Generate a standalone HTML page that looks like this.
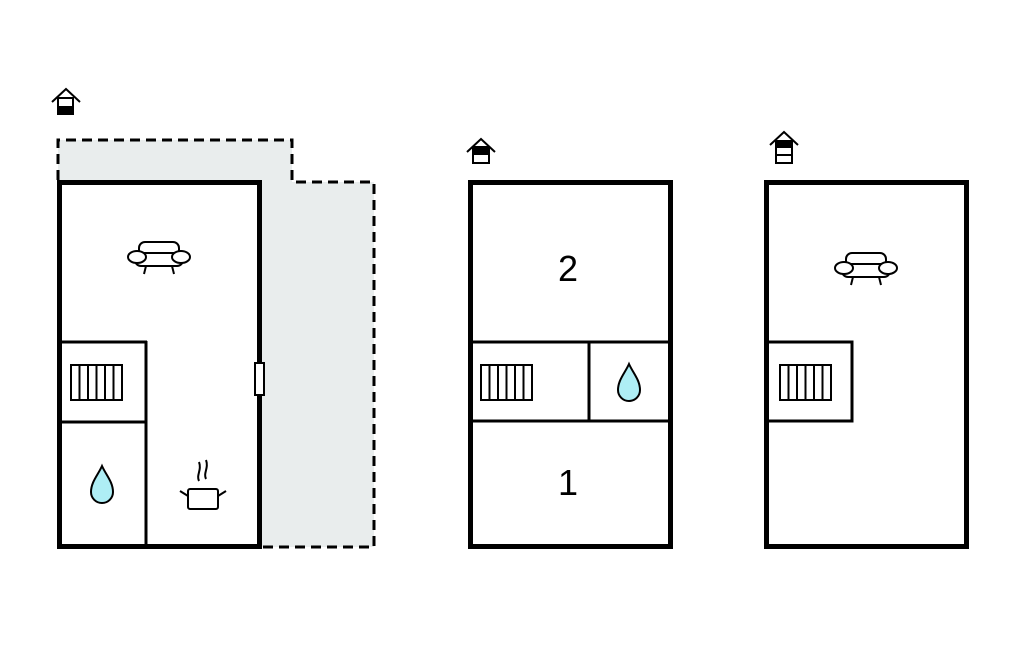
<!DOCTYPE html>
<html><head><meta charset="utf-8"><style>
html,body{margin:0;padding:0;background:#fff;width:1024px;height:652px;overflow:hidden}
</style></head><body>
<svg width="1024" height="652" viewBox="0 0 1024 652" xmlns="http://www.w3.org/2000/svg">
<defs>
<g id="sofa" fill="#fff" stroke="#000" stroke-width="2">
<rect x="-20" y="-17" width="40" height="17" rx="6"/>
<rect x="-24" y="-6" width="48" height="13" rx="6"/>
<ellipse cx="-22" cy="-2" rx="9" ry="6"/>
<ellipse cx="22" cy="-2" rx="9" ry="6"/>
<line x1="-13" y1="7" x2="-15" y2="15"/>
<line x1="13" y1="7" x2="15" y2="15"/>
</g>
<g id="rad" fill="#fff" stroke="#000" stroke-width="2">
<rect x="0" y="0" width="51" height="35"/>
<line x1="8.5" y1="0" x2="8.5" y2="35"/><line x1="17" y1="0" x2="17" y2="35"/>
<line x1="25.5" y1="0" x2="25.5" y2="35"/><line x1="34" y1="0" x2="34" y2="35"/>
<line x1="42.5" y1="0" x2="42.5" y2="35"/>
</g>
<path id="drop" d="M0,-19 C-4,-10 -11,-3 -11,7 A11,11 0 0 0 11,7 C11,-3 4,-10 0,-19 Z" fill="#aeeef5" stroke="#000" stroke-width="2"/>
</defs>

<path d="M58,140 L292,140 L292,182 L374,182 L374,547 L260,547 L260,182 L58,182 Z" fill="#e9eded"/>
<path d="M58,180 L58,140 L292,140 L292,182 L374,182 L374,547 L262,547" fill="none" stroke="#000" stroke-width="3" stroke-dasharray="10,6"/>
<rect x="59.5" y="182.5" width="200" height="364" fill="#fff" stroke="#000" stroke-width="5"/>
<line x1="59" y1="342" x2="147" y2="342" stroke="#000" stroke-width="3"/>
<line x1="59" y1="422" x2="146" y2="422" stroke="#000" stroke-width="3"/>
<line x1="146" y1="341" x2="146" y2="547" stroke="#000" stroke-width="3"/>
<rect x="255" y="363" width="9" height="32" fill="#fff" stroke="#000" stroke-width="2"/>
<use href="#sofa" x="159" y="259"/>
<use href="#rad" x="71" y="365"/>
<use href="#drop" x="102" y="485"/>
<g fill="none" stroke="#000" stroke-width="2">
<rect x="188" y="489" width="30" height="20" rx="2" fill="#fff"/>
<line x1="188" y1="496" x2="180" y2="491"/><line x1="218" y1="496" x2="226" y2="491"/>
<path d="M199,481 C196,475 202,470 199,462"/><path d="M206,479 C203,473 209,468 206,460"/>
</g>
<g stroke="#000" stroke-width="2" fill="none">
<polyline points="52,102 66,89 80,102"/>
<rect x="58" y="98" width="15" height="16" fill="#fff"/>
</g>
<rect x="58" y="106" width="15" height="8" fill="#000"/>

<rect x="470.5" y="182.5" width="200" height="364" fill="#fff" stroke="#000" stroke-width="5"/>
<line x1="470" y1="342" x2="671" y2="342" stroke="#000" stroke-width="3"/>
<line x1="470" y1="421" x2="671" y2="421" stroke="#000" stroke-width="3"/>
<line x1="589" y1="342" x2="589" y2="421" stroke="#000" stroke-width="3"/>
<text x="568" y="281" font-family="Liberation Sans, sans-serif" font-size="36" text-anchor="middle">2</text>
<text x="568" y="495" font-family="Liberation Sans, sans-serif" font-size="36" text-anchor="middle">1</text>
<use href="#rad" x="481" y="365"/>
<use href="#drop" x="629" y="383"/>
<g stroke="#000" stroke-width="2" fill="none">
<polyline points="467,152 481,139 495,152"/>
<rect x="473" y="147" width="16" height="16" fill="#fff"/>
</g>
<rect x="473" y="147" width="16" height="8" fill="#000"/>

<rect x="766.5" y="182.5" width="200" height="364" fill="#fff" stroke="#000" stroke-width="5"/>
<polyline points="766,342 852,342 852,421 766,421" fill="none" stroke="#000" stroke-width="3"/>
<use href="#sofa" x="866" y="270"/>
<use href="#rad" x="780" y="365"/>
<g stroke="#000" stroke-width="2" fill="none">
<polyline points="770,145 784,132 798,145"/>
<rect x="776" y="141" width="16" height="22" fill="#fff"/>
<line x1="776" y1="155" x2="792" y2="155"/>
</g>
<rect x="776" y="141" width="16" height="7" fill="#000"/>
</svg>
</body></html>
